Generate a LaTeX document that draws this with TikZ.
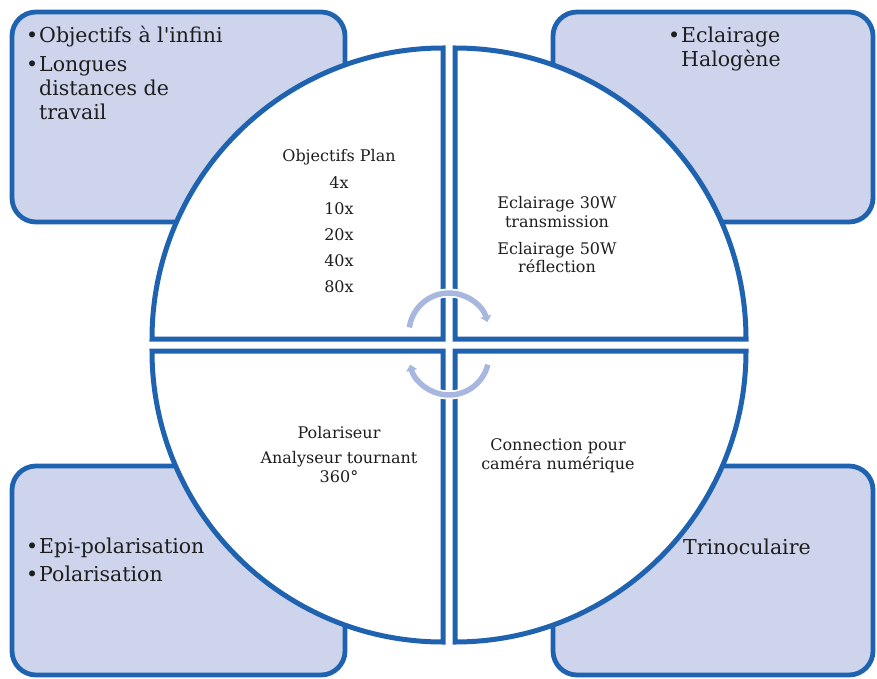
\documentclass[tikz,border=0pt]{standalone}
\usepackage{fontspec}
\setmainfont{DejaVu Serif}[Ligatures=TeXOff]
\usetikzlibrary{arrows.meta}
\definecolor{bord}{RGB}{31,99,176}
\definecolor{boxfill}{RGB}{205,212,236}
\definecolor{arrowc}{RGB}{168,183,224}
\definecolor{txtc}{RGB}{30,30,30}
\tikzset{
  cornerbox/.style={draw=bord, fill=boxfill, line width=4.8pt, rounded corners=24pt},
  quarter/.style={draw=bord, fill=white, line width=5pt, line join=miter},
  bigtxt/.style={font=\fontsize{20.5}{24}\selectfont, text=txtc, inner sep=0pt, anchor=base west},
  smalltxt/.style={font=\fontsize{16}{20}\selectfont, text=txtc, inner sep=0pt, anchor=base},
  halo/.style={draw=white, line width=9pt},
  rot/.style={draw=arrowc, line width=5.5pt, -{Triangle[width=11pt,length=6pt]}}
}
\begin{document}
\begin{tikzpicture}[x=1pt, y=-1pt]
\useasboundingbox (0,0) rectangle (877,679);
% corner boxes
\draw[cornerbox] (12,12) rectangle (345,222);
\draw[cornerbox] (553,12) rectangle (873,222);
\draw[cornerbox] (12,466) rectangle (345,675);
\draw[cornerbox] (553,466) rectangle (873,675);
% corner texts
\node[bigtxt] (b1) at (26,43) {•};
\node[bigtxt] (t1) at (39,43) {Objectifs à l'infini};
\node[bigtxt] (b2) at (26,72) {•};
\node[bigtxt] (t2) at (39,72) {Longues};
\node[bigtxt] (t3) at (39,96) {distances de};
\node[bigtxt] (t4) at (39,120) {travail};
\node[bigtxt] (b3) at (668,43) {•};
\node[bigtxt] (t5) at (681,43) {Eclairage};
\node[bigtxt] (t6) at (681,67) {Halogène};
\node[bigtxt] (b4) at (26,553) {•};
\node[bigtxt] (t7) at (39,553) {Epi-polarisation};
\node[bigtxt] (b5) at (26,581) {•};
\node[bigtxt] (t8) at (39,581) {Polarisation};
\node[bigtxt] (b6) at (661,554) {•};
\node[bigtxt] (t9) at (683,554) {Trinoculaire};
% quarters
\draw[quarter] (443,339) -- ++(-291,0) arc[start angle=180, end angle=270, radius=291] -- cycle;
\draw[quarter] (455,339) -- ++(0,-291) arc[start angle=270, end angle=360, radius=291] -- cycle;
\draw[quarter] (455,351) -- ++(291,0) arc[start angle=0, end angle=90, radius=291] -- cycle;
\draw[quarter] (443,351) -- ++(0,291) arc[start angle=90, end angle=180, radius=291] -- cycle;
% quarter texts
\node[smalltxt] (q1) at (339,161) {Objectifs Plan};
\node[smalltxt] (q2) at (339,188) {4x};
\node[smalltxt] (q3) at (339,214) {10x};
\node[smalltxt] (q4) at (339,240) {20x};
\node[smalltxt] (q5) at (339,266) {40x};
\node[smalltxt] (q6) at (339,292) {80x};
\node[smalltxt] (r1) at (557,208) {Eclairage 30W};
\node[smalltxt] (r2) at (557,227) {transmission};
\node[smalltxt] (r3) at (557,254) {Eclairage 50W};
\node[smalltxt] (r4) at (557,272) {réflection};
\node[smalltxt] (p1) at (339,438) {Polariseur};
\node[smalltxt] (p2) at (339,463) {Analyseur tournant};
\node[smalltxt] (p3) at (339,482) {360°};
\node[smalltxt] (c1) at (558,450) {Connection pour};
\node[smalltxt] (c2) at (558,469) {caméra numérique};
% rotation arrows
\coordinate (ca) at (449,333);
\coordinate (cb) at (449,355);
\draw[halo] (ca) ++(188:40) arc[start angle=188, end angle=344, radius=40];
\draw[rot] (ca) ++(188:40) arc[start angle=188, end angle=344, radius=40];
\draw[halo] (cb) ++(14:40) arc[start angle=14, end angle=166, radius=40];
\draw[rot] (cb) ++(14:40) arc[start angle=14, end angle=166, radius=40];
\end{tikzpicture}
\end{document}
